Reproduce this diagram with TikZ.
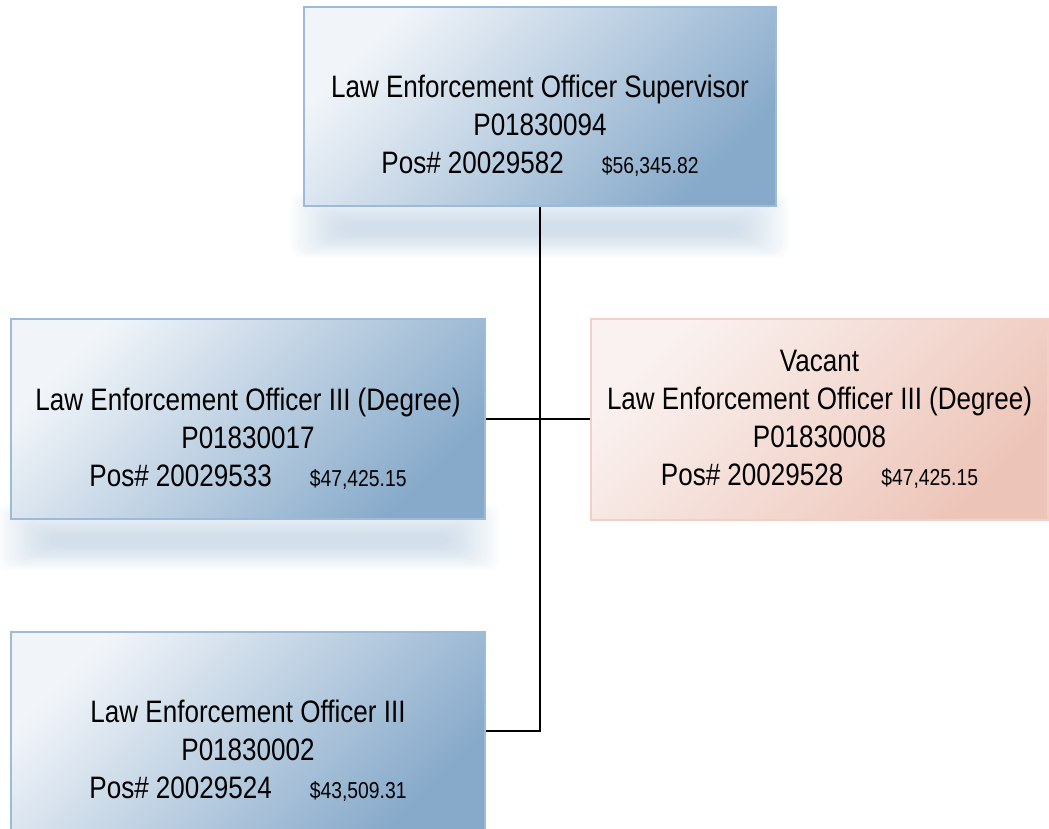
\documentclass[tikz,border=0pt]{standalone}
\usepackage{fontspec}
\setmainfont{Liberation Sans}[FakeStretch=0.84]
\usetikzlibrary{calc}
\definecolor{bluelight}{HTML}{F1F5F9}
\definecolor{bluedark}{HTML}{87AACA}
\definecolor{blueline}{HTML}{9DBBD8}
\definecolor{pinklight}{HTML}{FAF2F0}
\definecolor{pinkdark}{HTML}{EDC5B8}
\definecolor{pinkline}{HTML}{F3D0C5}
\definecolor{shadowc}{HTML}{8FAECB}
\newcommand{\salary}[1]{{\fontsize{23}{38}\selectfont #1}}
\newcommand{\firstblue}{\rule{0pt}{31.6pt}}
\newcommand{\firstpink}{\rule{0pt}{29.6pt}}
\begin{document}
\begin{tikzpicture}[x=1pt,y=-1pt,
  orgbox/.style={rectangle, draw=blueline, line width=2pt,
    top color=bluelight, bottom color=bluedark, shading angle=45,
    minimum height=199pt, align=center, inner sep=0pt,
    font=\fontsize{31}{38}\selectfont},
  vacbox/.style={orgbox, draw=pinkline, top color=pinklight,
    bottom color=pinkdark, shading angle=45},
  link/.style={draw=black, line width=2pt},
  shadowlayer/.style={fill=shadowc, opacity=0.024, rounded corners=10pt}]
\useasboundingbox (0,0) rectangle (1049,829);
% soft shadows
\foreach \k in {0,...,20} {
  \fill[shadowlayer] (340-2.5*\k, 222-1.5*\k) rectangle (740+2.5*\k, 234+1.2*\k);
  \fill[shadowlayer] (47-2.5*\k, 534-1.5*\k) rectangle (450+2.5*\k, 546+1.2*\k);
}
\node[orgbox, minimum width=472pt] (sup) at (540,106.5)
  {\firstblue\\ Law Enforcement Officer Supervisor\strut\\ P01830094\strut\\
   Pos\# 20029582\hspace{38pt}\salary{\$56,345.82}\strut};
\node[orgbox, minimum width=474pt, minimum height=200pt] (leoa) at (248,419)
  {\firstblue\\ Law Enforcement Officer III (Degree)\strut\\ P01830017\strut\\
   Pos\# 20029533\hspace{38pt}\salary{\$47,425.15}\strut};
\node[vacbox, minimum width=457pt, minimum height=201pt] (vac) at (819.5,419)
  {\firstpink Vacant\\ Law Enforcement Officer III (Degree)\strut\\ P01830008\strut\\
   Pos\# 20029528\hspace{38pt}\salary{\$47,425.15}\strut};
\node[orgbox, minimum width=474pt] (leob) at (248,731)
  {\firstblue\\ Law Enforcement Officer III\strut\\ P01830002\strut\\
   Pos\# 20029524\hspace{38pt}\salary{\$43,509.31}\strut};
\draw[link] (sup.south) -- (sup.south |- leob.east) -- (leob.east);
\draw[link] (leoa.east) -- (vac.west);
\end{tikzpicture}
\end{document}
